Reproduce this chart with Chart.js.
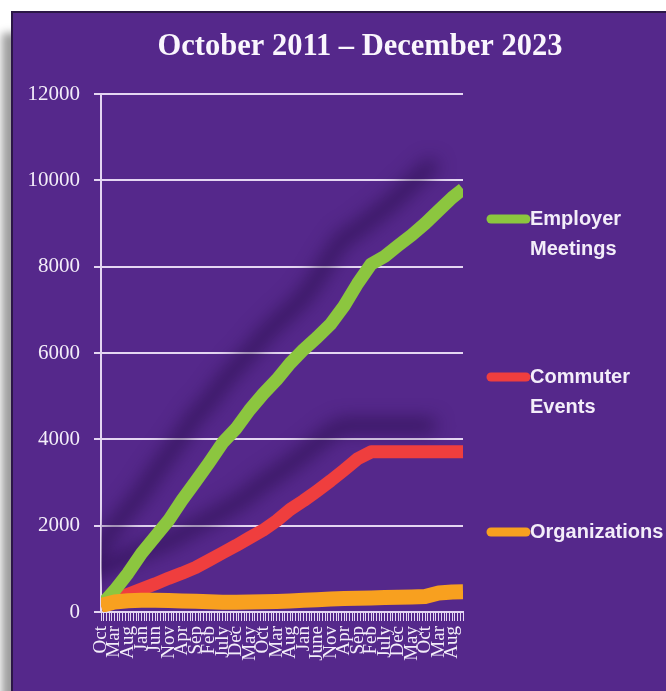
<!DOCTYPE html>
<html>
<head>
<meta charset="utf-8">
<script src="https://cdn.jsdelivr.net/npm/chart.js@4.4.0/dist/chart.umd.min.js"></script>
<style>
  html, body { margin: 0; padding: 0; background: #fff; overflow: hidden; }
  #frame {
    position: absolute; left: 11px; top: 11px; width: 720px; height: 720px;
    background: #55288b;
    border-top: 2px solid #2b1746; border-left: 2px solid #2b1746;
    box-shadow: -9px 22px 8px rgba(0, 0, 0, 0.38);
  }
  #wrap { position: absolute; left: 0; top: 0; width: 666px; height: 691px; }
</style>
</head>
<body>
<div id="frame"></div>
<div id="wrap"><canvas id="chart" width="666" height="691"></canvas></div>
<script>
// one label every 5 months, starting Oct 2011
var monthLabels = ['Oct', 'Mar', 'Aug', 'Jan', 'Jun', 'Nov', 'Apr', 'Sep', 'Feb', 'July', 'Dec', 'May', 'Oct',
    'Mar', 'Aug', 'Jan', 'June', 'Nov', 'Apr', 'Sep', 'Feb', 'July', 'Dec', 'May', 'Oct', 'Mar', 'Aug'];

// months since Oct 2011 for each reading
var months = [0, 5, 10, 15, 20, 25, 30, 35, 40, 45, 50, 55, 60, 65, 70, 75, 80, 85, 90, 95,
    100, 105, 110, 115, 120, 125, 130, 134];

var employerMeetings = [150, 500, 900, 1360, 1740, 2120, 2590, 3020, 3460, 3920, 4250, 4680, 5050, 5380,
    5760, 6080, 6360, 6670, 7090, 7610, 8060, 8240, 8490, 8730, 9000, 9300, 9600, 9800];
var commuterEvents = [150, 280, 410, 530, 650, 780, 900, 1030, 1200, 1370, 1540, 1720, 1895, 2115,
    2375, 2580, 2805, 3040, 3290, 3550, 3710, 3710, 3710, 3710, 3710, 3710, 3710, 3710];
var organizations = [150, 230, 260, 270, 270, 265, 255, 250, 235, 225, 225, 230, 235, 245,
    255, 270, 285, 300, 310, 320, 325, 335, 340, 350, 360, 440, 465, 470];

var seriesNames = ['Employer\nMeetings', 'Commuter\nEvents', 'Organizations'];
var seriesColors = ['#8cc63f', '#ef3e3e', '#f8a01f'];

var lavender = '#e4d6f2';
var textColor = '#f3edf9';

var toPoints = function(values) {
    return months.map(function(m, i) { return { x: m, y: values[i] }; });
};

var lineShadow = {
    id: 'lineShadow',
    beforeDatasetDraw: function(chart, args, opts) {
        if (opts.datasets.indexOf(args.index) < 0) return;
        var ctx = chart.ctx;
        var r = chart.currentDevicePixelRatio || 1;
        ctx.save();
        ctx.shadowColor = opts.color;
        ctx.shadowBlur = opts.blur * r;
        ctx.shadowOffsetX = opts.offsetX * r;
        ctx.shadowOffsetY = opts.offsetY * r;
    },
    afterDatasetDraw: function(chart, args, opts) {
        if (opts.datasets.indexOf(args.index) < 0) return;
        chart.ctx.restore();
    }
};

var topTitle = {
    id: 'topTitle',
    afterDraw: function(chart, args, opts) {
        var ctx = chart.ctx;
        ctx.save();
        ctx.font = opts.font;
        ctx.fillStyle = opts.color;
        ctx.textAlign = 'center';
        ctx.textBaseline = 'middle';
        ctx.fillText(opts.text, opts.x, opts.y);
        ctx.restore();
    }
};

var sideLegend = {
    id: 'sideLegend',
    afterDraw: function(chart, args, opts) {
        var ctx = chart.ctx;
        ctx.save();
        chart.data.datasets.forEach(function(ds, i) {
            var y = opts.rows[i];
            ctx.strokeStyle = ds.borderColor;
            ctx.lineWidth = 9;
            ctx.lineCap = 'round';
            ctx.beginPath();
            ctx.moveTo(opts.x0 + 4, y);
            ctx.lineTo(opts.x1 - 4, y);
            ctx.stroke();
            ctx.fillStyle = opts.color;
            ctx.font = opts.font;
            ctx.textAlign = 'left';
            ctx.textBaseline = 'middle';
            ds.label.split('\n').forEach(function(line, k) {
                ctx.fillText(line, opts.x1, y + k * opts.gap);
            });
        });
        ctx.restore();
    }
};

var ctx = document.getElementById('chart').getContext('2d');
var myChart = new Chart(ctx, {
    type: 'line',
    data: {
        datasets: [{
            label: seriesNames[0],
            data: toPoints(employerMeetings),
            borderColor: seriesColors[0],
            borderWidth: 13,
            order: 2
        }, {
            label: seriesNames[1],
            data: toPoints(commuterEvents),
            borderColor: seriesColors[1],
            borderWidth: 13,
            order: 3
        }, {
            label: seriesNames[2],
            data: toPoints(organizations),
            borderColor: seriesColors[2],
            borderWidth: 15,
            order: 1
        }]
    },
    options: {
        responsive: false,
        animation: false,
        layout: { padding: { top: 94, right: 203, left: 0, bottom: 0 } },
        elements: {
            point: { radius: 0 },
            line: { tension: 0, borderJoinStyle: 'round', borderCapStyle: 'butt' }
        },
        scales: {
            x: {
                type: 'linear',
                min: 0,
                max: months[months.length - 1],
                afterFit: function(s) { s.height = 79; },
                border: { display: true, color: lavender, width: 2 },
                grid: { drawOnChartArea: false, drawTicks: true, tickLength: 9, color: lavender, lineWidth: 1 },
                ticks: {
                    stepSize: 1,
                    autoSkip: false,
                    maxRotation: 90,
                    minRotation: 90,
                    padding: 5,
                    color: textColor,
                    font: { family: 'Liberation Serif', size: 19 },
                    callback: function(v) { return v % 5 === 0 ? monthLabels[v / 5] : ''; }
                }
            },
            y: {
                min: 0,
                max: 12000,
                afterFit: function(s) { s.width = 101; },
                border: { display: true, color: lavender, width: 2 },
                grid: { color: lavender, lineWidth: 2, tickLength: 7 },
                ticks: {
                    stepSize: 2000,
                    padding: 14,
                    color: textColor,
                    font: { family: 'Liberation Serif', size: 21 },
                    callback: function(v) { return String(v); }
                }
            }
        },
        plugins: {
            legend: { display: false },
            title: { display: false },
            tooltip: { enabled: false },
            lineShadow: { datasets: [0, 1], color: 'rgba(30, 8, 60, 0.6)', blur: 18, offsetX: -28, offsetY: -26 },
            topTitle: { text: 'October 2011 \u2013 December 2023', font: 'bold 30.5px "Liberation Serif"', color: '#faf6fd', x: 360, y: 47 },
            sideLegend: { rows: [219, 377, 532], x0: 487, x1: 530, gap: 30, font: 'bold 20px "Liberation Sans"', color: textColor }
        }
    },
    plugins: [lineShadow, topTitle, sideLegend]
});
</script>
</body>
</html>
